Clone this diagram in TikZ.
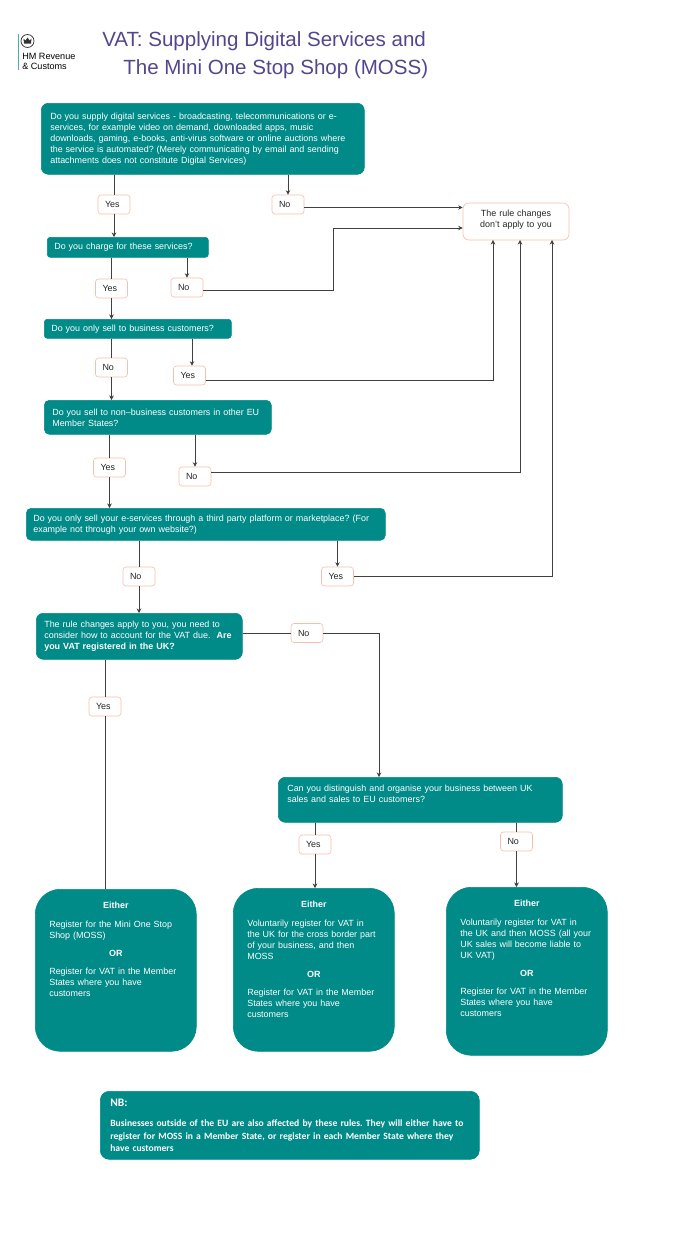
\documentclass[tikz,border=0pt]{standalone}
\usepackage{fontspec}
\setmainfont{Liberation Sans}
\newfontfamily\nbfont{Carlito}
\usepackage{tikz}
\usetikzlibrary{arrows.meta, positioning}

\definecolor{moss}{RGB}{0,138,136}
\definecolor{peach}{RGB}{247,190,172}
\definecolor{purple}{RGB}{84,70,140}

\frenchspacing
\newcommand{\outcome}[2]{\hspace*{14pt}\parbox[t][#1pt][t]{140pt}{#2}}
\newcommand{\heading}[1]{\makebox[133pt]{\textbf{#1}}}

\begin{document}
\begin{tikzpicture}[
            x=1pt,
            y=-1pt,
            >={Stealth[length=4.5pt,width=4.5pt]},
            semithick,
            line width=0.6pt,
            font=\fontsize{8.95}{11}\selectfont
        ]
        \tikzstyle{every edge}=[draw=black!75]
        \tikzstyle{question}=[fill=moss, draw=moss, text=white, align=left, rounded corners=7pt, inner sep=0pt, anchor=north west]
        \tikzstyle{answer}=[fill=white, draw=peach, text=black!85, rounded corners=3pt, inner sep=0pt, minimum width=32pt, minimum height=19pt, text width=18pt, align=left]
        \tikzstyle{either}=[fill=moss, draw=moss, text=white, rounded corners=25pt, inner sep=0pt, anchor=north west, minimum width=161pt, text width=161pt, align=left]

        \useasboundingbox (0,0) rectangle (700,1258);

        % logo and title
        \draw[draw=moss!70, line width=0.8pt] (18,34) -- (18,70);
        \node[circle, draw=black!80, minimum size=13pt, inner sep=0pt, line width=0.7pt] (crest) at (27.5,41) {};
        \draw[fill=black!80, draw=none] (24,43.5) -- (23.5,38.5) -- (25.5,40.5) -- (27.5,37.5) -- (29.5,40.5) -- (31.5,38.5) -- (31,43.5) -- cycle;
        \node[inner sep=0pt, align=left, anchor=west, font=\fontsize{9.1}{10}\selectfont] (hmrc) at (22,61) {HM Revenue\\\& Customs};
        \node[inner sep=0pt, anchor=west, text=purple, font=\fontsize{20.55}{28}\selectfont] (title1) at (102,41) {VAT: Supplying Digital Services and};
        \node[inner sep=0pt, anchor=west, text=purple, font=\fontsize{20.55}{28}\selectfont] (title2) at (123,69.5) {The Mini One Stop Shop (MOSS)};

        % questions
        \node[question, minimum width=323pt, minimum height=71pt, text width=305pt] (Q1) at (41,103) {Do you supply digital services - broadcasting, telecommunications or e-\\services, for example video on demand, downloaded apps, music\\downloads, gaming, e-books, anti-virus software or online auctions where\\the service is automated? (Merely communicating by email and sending\\attachments does not constitute Digital Services)};
        \node[question, minimum width=161pt, minimum height=20pt, text width=147pt, rounded corners=3pt] (Q2) at (47,237) {Do you charge for these services?};
        \node[question, minimum width=187pt, minimum height=19pt, text width=173pt, rounded corners=3pt] (Q3) at (44,319) {Do you only sell to business customers?};
        \node[question, minimum width=227pt, minimum height=34pt, text width=211pt, rounded corners=5pt] (Q4) at (44,400) {Do you sell to non--business customers in other EU\\Member States?};
        \node[question, minimum width=359pt, minimum height=32pt, text width=345pt, rounded corners=5pt] (Q5) at (26,508) {Do you only sell your e-services through a third party platform or marketplace? (For\\example not through your own website?)};
        \node[question, minimum width=206pt, minimum height=46pt, text width=190pt] (Q6) at (36,613) {The rule changes apply to you, you need to\\consider how to account for the VAT due.\ \ \textbf{Are}\\\textbf{you VAT registered in the UK?}};
        \node[question, minimum width=284pt, minimum height=45pt, text width=266pt] (Q7) at (278,777) {Can you distinguish and organise your business between UK\\sales and sales to EU customers?\\[1pt]\ };

        % answers
        \node[answer] (Y1) at (114,204.5) {Yes};
        \node[answer] (N1) at (288,204.5) {No};
        \node[answer] (Y2) at (111.5,288.5) {Yes};
        \node[answer] (N2) at (187,287.5) {No};
        \node[answer] (N3) at (111.5,367.5) {No};
        \node[answer] (Y3) at (189.5,375.5) {Yes};
        \node[answer] (Y4) at (109.5,467.5) {Yes};
        \node[answer] (N4) at (195,476.5) {No};
        \node[answer] (N5) at (139,576.5) {No};
        \node[answer] (Y5) at (337.5,576.5) {Yes};
        \node[answer] (N6) at (307,633) {No};
        \node[answer] (Y6) at (105,706.5) {Yes};
        \node[answer] (Y7) at (315,844.5) {Yes};
        \node[answer] (N7) at (516.5,841.5) {No};

        % the rule box
        \node[answer, minimum width=106pt, minimum height=37pt, rounded corners=6pt, text width=100pt, align=center] (R) at (516,221.5) {The rule changes\\don't apply to you\par\vspace{3.5pt}};
        \coordinate (C1) at (333,228);
        \coordinate (R1) at (493,240);
        \coordinate (R2) at (520,240);
        \coordinate (R3) at (552,240);
        \coordinate (T6) at (379,777);

        % outcomes
        \node[either] (E1) at (35,889) {\outcome{162}{\vspace{13pt}\heading{Either}\par\vspace{8pt}Register for the Mini One Stop\\Shop (MOSS)\par\vspace{7pt}\heading{OR}\par\vspace{7pt}Register for VAT in the Member\\States where you have\\customers}};
        \node[either] (E2) at (233,888) {\outcome{163}{\vspace{13pt}\heading{Either}\par\vspace{8pt}Voluntarily register for VAT in\\the UK for the cross border part\\of your business, and then\\MOSS\par\vspace{7pt}\heading{OR}\par\vspace{7pt}Register for VAT in the Member\\States where you have\\customers}};
        \node[either] (E3) at (446,887) {\outcome{168}{\vspace{13pt}\heading{Either}\par\vspace{8pt}Voluntarily register for VAT in\\the UK and then MOSS (all your\\UK sales will become liable to\\UK VAT)\par\vspace{7pt}\heading{OR}\par\vspace{7pt}Register for VAT in the Member\\States where you have\\customers}};

        % note
        \node[question, minimum width=379pt, minimum height=68pt, text width=359pt, rounded corners=9pt, font=\nbfont\bfseries\fontsize{9.6}{12.5}\selectfont] (NB) at (100,1091) {{\fontsize{11.5}{12.5}\selectfont NB:}\\[7.5pt]Businesses outside of the EU are also affected by these rules. They will either have to\\register for MOSS in a Member State, or register in each Member State where they\\have customers};

        % connectors
        \path (Q1.south -| Y1) edge (Y1)
        (Y1) edge[->] (Y1 |- Q2.north)
        (Q1.south -| N1) edge[->] (N1)
        ([yshift=-3pt]N1.east) edge[->] ([yshift=-3pt]N1.east -| R.west)
        (Q2.south -| Y2) edge (Y2)
        (Y2) edge[->] (Y2 |- Q3.north)
        (Q2.south -| N2) edge[->] (N2)
        (Q3.south -| N3) edge (N3)
        (N3) edge[->] (N3 |- Q4.north)
        ([xshift=2.5pt]Q3.south -| Y3) edge[->] ([xshift=2.5pt]Y3.north)
        (Q4.south -| Y4) edge (Y4)
        (Y4) edge[->] (Y4 |- Q5.north)
        (Q4.south -| N4) edge[->] (N4)
        (Q5.south -| N5) edge (N5)
        (N5) edge[->] (N5 |- Q6.north)
        (Q5.south -| Y5) edge[->] (Y5)
        (Q6.east |- N6) edge (N6)
        (Q6.south -| Y6) edge (Y6)
        (Y6) edge (Y6 |- E1.north)
        (Q7.south -| Y7) edge (Y7)
        (Y7) edge[->] (Y7 |- E2.north)
        (Q7.south -| N7) edge (N7)
        (N7) edge[->] (N7 |- E3.north);

        \draw[->, draw=black!75] ([yshift=-2.5pt]N2.east) -| (C1) -- (C1 -| R.west);
        \draw[->, draw=black!75] ([yshift=-4.5pt]Y3.east) -| (R1);
        \draw[->, draw=black!75] ([yshift=4.5pt]N4.east) -| (R2);
        \draw[->, draw=black!75] (Y5.east) -| (R3);
        \draw[->, draw=black!75] (N6.east) -| (T6);
    \end{tikzpicture}
\end{document}
